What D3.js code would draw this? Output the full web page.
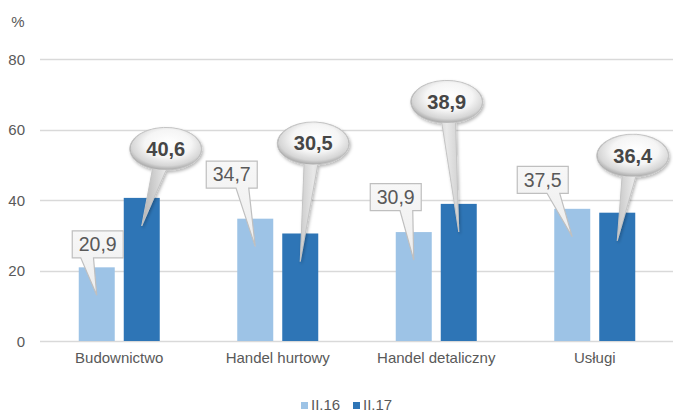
<!DOCTYPE html>
<html>
<head>
<meta charset="utf-8">
<script src="https://cdn.jsdelivr.net/npm/d3@7/dist/d3.min.js"></script>
<style>
  html, body { margin: 0; padding: 0; background: #fff; }
  svg { display: block; font-family: "Liberation Sans", Arial, sans-serif; }
</style>
</head>
<body>
<svg id="chart" width="673" height="412"></svg>
<script>
// ---- data ----
const categories = ["Budownictwo", "Handel hurtowy", "Handel detaliczny", "Usługi"];
const seriesNames = ["II.16", "II.17"];
const valuesII16 = [20.9, 34.7, 30.9, 37.5];
const valuesII17 = [40.6, 30.5, 38.9, 36.4];
const yTicks = [0, 20, 40, 60, 80];

// ---- layout of callouts (offset of box centre from bar top-centre) ----
const calloutOffsets16 = [[1, -23], [-23.5, -44], [-18, -35], [-29.5, -29]];
const calloutOffsets17 = [[24, -49], [13, -90], [-12, -102], [15.5, -57]];

const colors = ["#9dc3e6", "#2e75b6"];
const fmt = v => String(v.toFixed(1)).replace(".", ",");

const svg = d3.select("#chart");
const x0 = d3.scaleBand().domain(categories).range([40, 674]).padding(0);
const y = d3.scaleLinear().domain([0, 80]).range([341, 59]);
const barW = 36, barOff = 22.5;

const defs = svg.append("defs");
const rg = defs.append("radialGradient").attr("id", "ellG")
  .attr("cx", "52%").attr("cy", "40%").attr("r", "60%").attr("fx", "55%").attr("fy", "35%");
rg.append("stop").attr("offset", "0").attr("stop-color", "#ffffff");
rg.append("stop").attr("offset", "0.55").attr("stop-color", "#f5f5f5");
rg.append("stop").attr("offset", "0.85").attr("stop-color", "#d6d6d6");
rg.append("stop").attr("offset", "1").attr("stop-color", "#a9a9a9");
const wg = defs.append("linearGradient").attr("id", "wedgeG").attr("x1", "0").attr("x2", "1").attr("y1", "0").attr("y2", "0");
wg.append("stop").attr("offset", "0").attr("stop-color", "#9a9a9a");
wg.append("stop").attr("offset", "0.5").attr("stop-color", "#e8e8e8");
wg.append("stop").attr("offset", "1").attr("stop-color", "#a6a6a6");
const rectG = defs.append("linearGradient").attr("id", "rectG").attr("x1", "0").attr("x2", "0").attr("y1", "0").attr("y2", "1");
rectG.append("stop").attr("offset", "0").attr("stop-color", "#f7f7f7");
rectG.append("stop").attr("offset", "1").attr("stop-color", "#ededed");
const sh = defs.append("filter").attr("id", "shadow").attr("x", "-30%").attr("y", "-30%").attr("width", "160%").attr("height", "170%");
sh.append("feDropShadow").attr("dx", "1.2").attr("dy", "1.8").attr("stdDeviation", "1.4")
  .attr("flood-color", "#000").attr("flood-opacity", "0.28");

// ---- grid & y ticks ----
const grid = svg.append("g");
grid.selectAll("line").data(yTicks).join("line")
  .attr("x1", 40).attr("x2", 673)
  .attr("y1", d => Math.round(y(d)) + 0.5).attr("y2", d => Math.round(y(d)) + 0.5)
  .attr("stroke", "#d9d9d9").attr("stroke-width", 1.3);
svg.append("g").selectAll("text").data(yTicks).join("text")
  .attr("x", 25).attr("y", d => y(d) + 5.5)
  .attr("text-anchor", "end").attr("font-size", 15).attr("fill", "#595959")
  .text(d => d);
svg.append("text").attr("x", 18).attr("y", 27).attr("text-anchor", "middle")
  .attr("font-size", 15).attr("fill", "#595959").text("%");

// ---- bars ----
const allSeries = [valuesII16, valuesII17];
allSeries.forEach((vals, si) => {
  svg.append("g").selectAll("rect").data(vals).join("rect")
    .attr("x", (d, i) => x0(categories[i]) + x0.bandwidth() / 2 + (si === 0 ? -barOff : barOff) - barW / 2)
    .attr("y", d => y(d))
    .attr("width", barW)
    .attr("height", d => y(0) - y(d))
    .attr("fill", colors[si]);
});

// ---- category labels ----
svg.append("g").selectAll("text").data(categories).join("text")
  .attr("x", d => x0(d) + x0.bandwidth() / 2)
  .attr("y", 363)
  .attr("text-anchor", "middle").attr("font-size", 15).attr("fill", "#595959")
  .text(d => d);

// ---- callouts ----
const barCx = (i, si) => x0(categories[i]) + x0.bandwidth() / 2 + (si === 0 ? -barOff : barOff);
const tipDepth = 28;

// rectangle callouts (II.16)
const RW = 51, RH = 27;
valuesII16.forEach((v, i) => {
  const bx = barCx(i, 0), by = y(v);
  const cx = bx + calloutOffsets16[i][0], cy = by + calloutOffsets16[i][1];
  const tx = bx, ty = by + tipDepth;
  const l = cx - RW / 2, t = cy - RH / 2, r = cx + RW / 2, b = cy + RH / 2;
  const right = tx > cx;
  const xa = l + RW * (right ? 7 : 2) / 12, xb = l + RW * (right ? 10 : 5) / 12;
  const p = d3.path();
  p.moveTo(l, t); p.lineTo(r, t); p.lineTo(r, b); p.lineTo(xb, b); p.lineTo(tx, ty);
  p.lineTo(xa, b); p.lineTo(l, b); p.closePath();
  svg.append("path").attr("d", p.toString())
    .attr("fill", "url(#rectG)").attr("stroke", "#bfbfbf").attr("stroke-width", 1.2);
  svg.append("text").attr("x", cx).attr("y", cy + 6.8)
    .attr("text-anchor", "middle").attr("font-size", 19.5).attr("fill", "#595959")
    .text(fmt(v));
});

// ellipse callouts (II.17)
const RX = 36, RY = 21.5;
valuesII17.forEach((v, i) => {
  const bx = barCx(i, 1), by = y(v);
  const cx = bx + calloutOffsets17[i][0], cy = by + calloutOffsets17[i][1];
  const tx = bx, ty = by + tipDepth;
  const ang = Math.atan2((ty - cy) / RY, (tx - cx) / RX);
  const da = 11 * Math.PI / 180;
  const a1 = ang + da, a2 = ang - da;
  const pt = a => [cx + RX * Math.cos(a), cy + RY * Math.sin(a)];
  const [x1, y1] = pt(a1), [x2, y2] = pt(a2);
  const d = `M${x1},${y1} A${RX},${RY} 0 1 1 ${x2},${y2} L${tx},${ty} Z`;
  const g = svg.append("g");
  g.append("path").attr("d", d).attr("fill", "url(#wedgeG)")
    .attr("stroke", "#c4c4c4").attr("stroke-width", 1).attr("filter", "url(#shadow)");
  g.append("ellipse").attr("cx", cx).attr("cy", cy).attr("rx", RX - 0.6).attr("ry", RY - 0.6)
    .attr("fill", "url(#ellG)");
  g.append("text").attr("x", cx).attr("y", cy + 7)
    .attr("text-anchor", "middle").attr("font-size", 20).attr("font-weight", "bold")
    .attr("fill", "#464646").text(fmt(v));
});

// ---- legend ----
const legX = [301, 353];
seriesNames.forEach((n, si) => {
  svg.append("rect").attr("x", legX[si]).attr("y", 402).attr("width", 7).attr("height", 7).attr("fill", colors[si]);
  svg.append("text").attr("x", legX[si] + 10).attr("y", 410).attr("font-size", 15)
    .attr("fill", "#595959").text(n);
});
</script>
</body>
</html>
